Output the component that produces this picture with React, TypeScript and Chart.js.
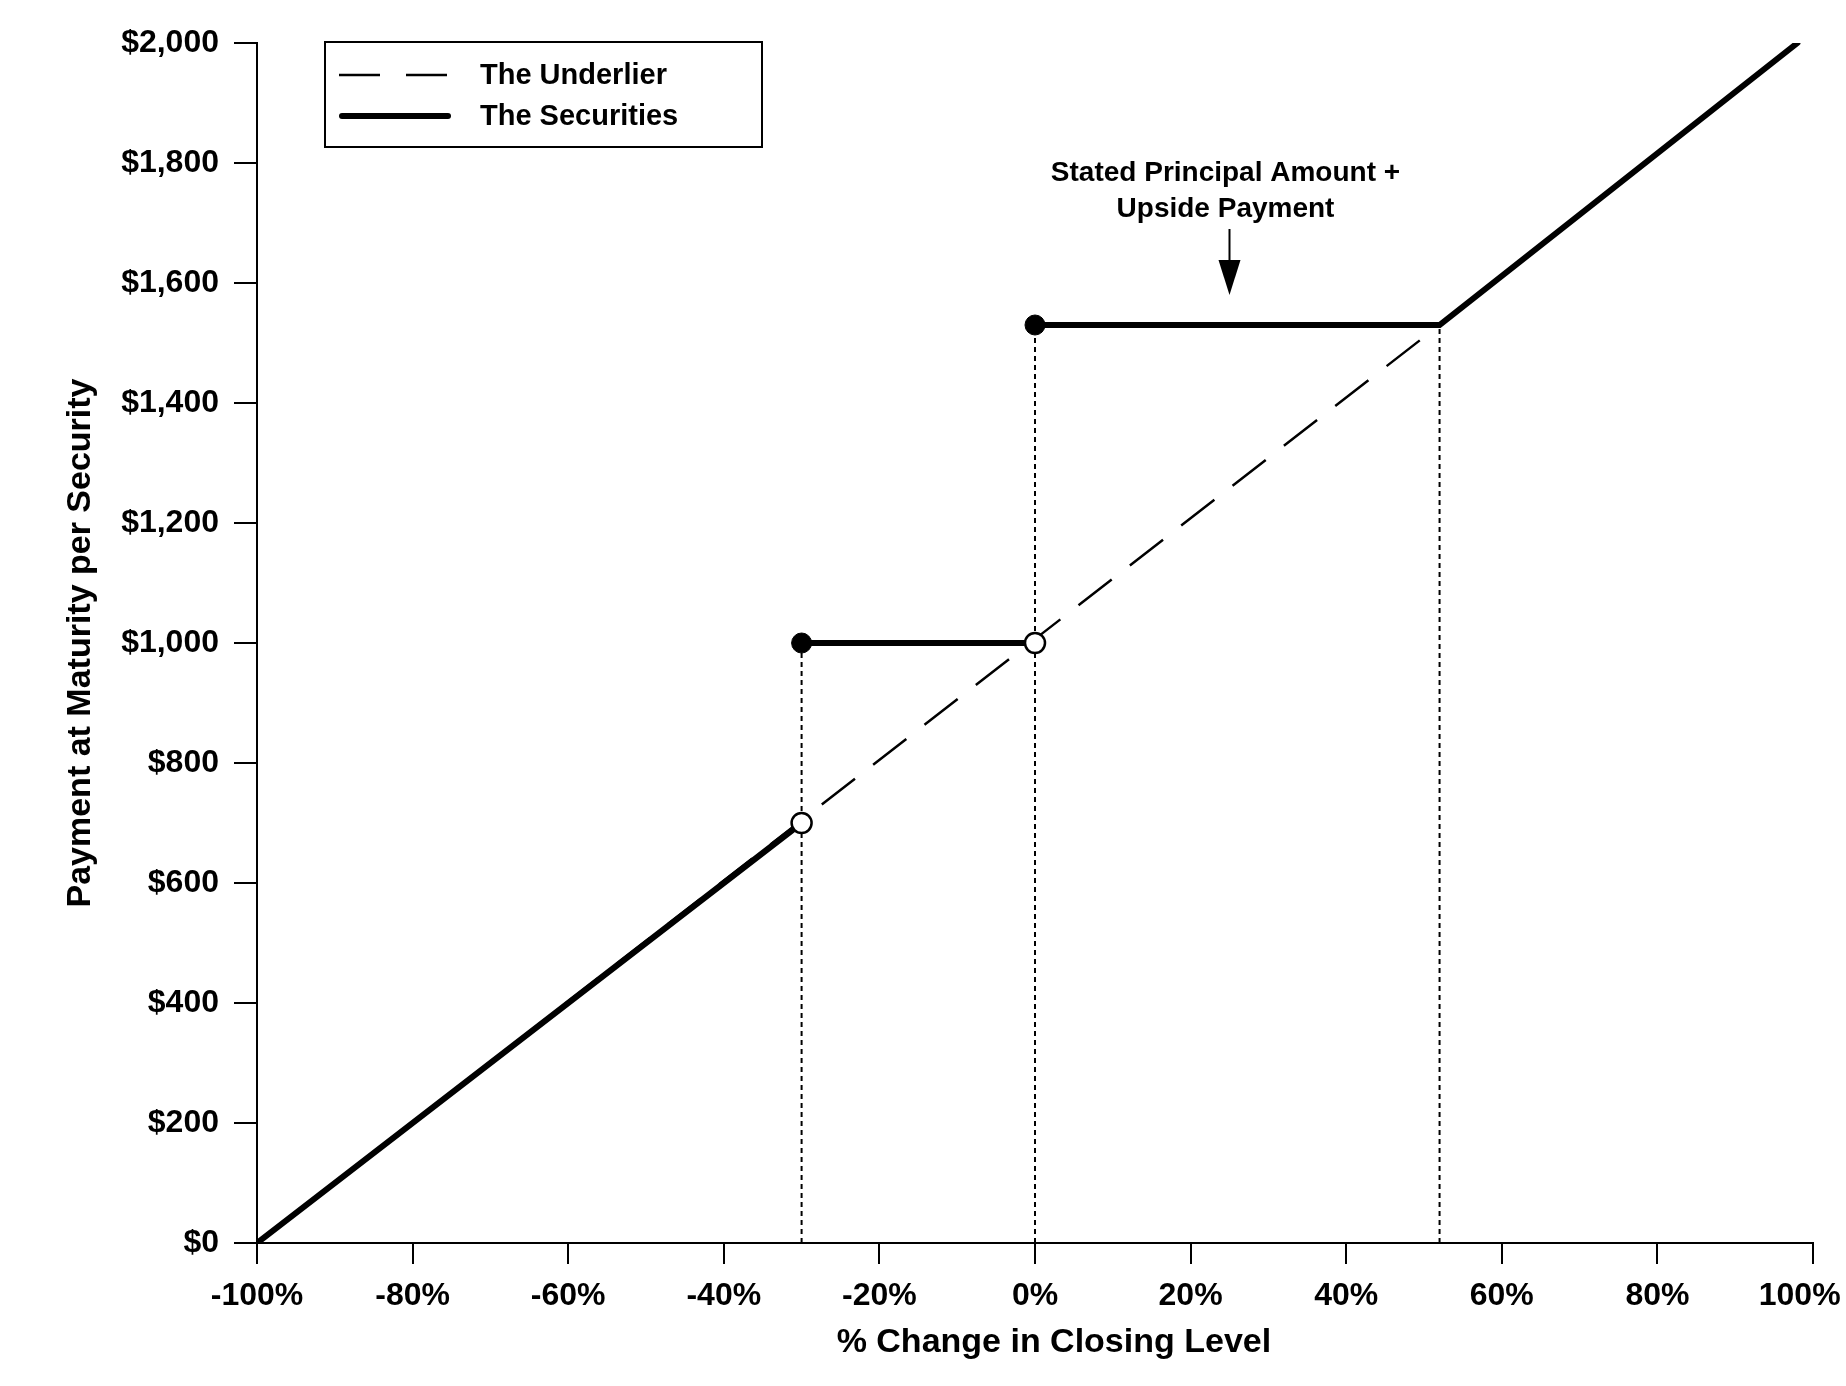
import { useEffect, useRef } from "react";
import Chart from "chart.js/auto";

// % change in closing level vs payment at maturity ($)
const underlierChange = [-100, 52, 98];
const underlierPayment = [0, 1530, 2000];

// null breaks the line at the jumps
const securitiesChange = [-100, -30, -30, -30, 0, 0, 0, 52, 98];
const securitiesPayment = [0, 700, null, 1000, 1000, null, 1530, 1530, 2000];

const closedChange = [-30, 0];
const closedPayment = [1000, 1530];
const openChange = [-30, 0];
const openPayment = [700, 1000];

// dotted drop lines
const guideChange = [-30, 0, 52];
const guidePayment = [1000, 1530, 1530];

const xTickValues = [-100, -80, -60, -40, -20, 0, 20, 40, 60, 80, 100];
const yTickValues = [0, 200, 400, 600, 800, 1000, 1200, 1400, 1600, 1800, 2000];

const legendLabels = ["The Underlier", "The Securities"];
const calloutText = ["Stated Principal Amount +", "Upside Payment"];
const calloutChange = 25;
const calloutTail = 1690;
const calloutTip = 1580;

const FONT = "'Liberation Sans', Arial, sans-serif";

const toPoints = (xs: number[], ys: (number | null)[]) => xs.map((x, i) => ({ x, y: ys[i] }));

const overlay = {
  id: "overlay",
  afterDatasetsDraw(chart: any) {
    const { ctx, chartArea, scales } = chart;
    ctx.save();

    // legend box
    const bx = chartArea.left + 68;
    const by = chartArea.top - 1;
    ctx.strokeStyle = "#000";
    ctx.lineWidth = 2;
    ctx.strokeRect(bx, by, 437, 105);

    ctx.lineWidth = 2.5;
    ctx.setLineDash([41, 26]);
    ctx.beginPath();
    ctx.moveTo(bx + 14, by + 33);
    ctx.lineTo(bx + 126, by + 33);
    ctx.stroke();

    ctx.setLineDash([]);
    ctx.lineWidth = 6;
    ctx.lineCap = "round";
    ctx.beginPath();
    ctx.moveTo(bx + 17, by + 74);
    ctx.lineTo(bx + 123, by + 74);
    ctx.stroke();

    ctx.fillStyle = "#000";
    ctx.font = `bold 29px ${FONT}`;
    ctx.textBaseline = "middle";
    ctx.textAlign = "left";
    ctx.fillText(legendLabels[0], bx + 155, by + 34);
    ctx.fillText(legendLabels[1], bx + 155, by + 75);

    // callout arrow
    const cx = scales.x.getPixelForValue(calloutChange);
    const tailY = scales.y.getPixelForValue(calloutTail);
    const tipY = scales.y.getPixelForValue(calloutTip);
    ctx.lineCap = "butt";
    ctx.lineWidth = 2;
    ctx.beginPath();
    ctx.moveTo(cx, tailY);
    ctx.lineTo(cx, tipY - 30);
    ctx.stroke();
    ctx.beginPath();
    ctx.moveTo(cx - 11, tipY - 35);
    ctx.lineTo(cx + 11, tipY - 35);
    ctx.lineTo(cx, tipY);
    ctx.closePath();
    ctx.fill();

    ctx.font = `bold 28px ${FONT}`;
    ctx.textAlign = "center";
    ctx.fillText(calloutText[0], cx - 4, tailY - 56);
    ctx.fillText(calloutText[1], cx - 4, tailY - 20);

    ctx.restore();
  },
};

function PayoffChart() {
  const canvasRef = useRef<HTMLCanvasElement>(null);
  const chartRef = useRef<Chart | null>(null);

  useEffect(() => {
    if (!canvasRef.current) return;
    if (chartRef.current) chartRef.current.destroy();

    const guides = guideChange.flatMap((x, i) => [
      { x, y: 0 },
      { x, y: guidePayment[i] },
      { x, y: null },
    ]);

    chartRef.current = new Chart(canvasRef.current, {
      type: "line",
      data: {
        datasets: [
          {
            label: "open",
            data: toPoints(openChange, openPayment),
            showLine: false,
            pointRadius: 10,
            pointBackgroundColor: "#fff",
            pointBorderColor: "#000",
            pointBorderWidth: 2.5,
            order: 1,
          },
          {
            label: "closed",
            data: toPoints(closedChange, closedPayment),
            showLine: false,
            pointRadius: 10,
            pointBackgroundColor: "#000",
            pointBorderColor: "#000",
            pointBorderWidth: 1,
            order: 2,
          },
          {
            label: "The Securities",
            data: toPoints(securitiesChange, securitiesPayment),
            borderColor: "#000",
            borderWidth: 6,
            borderCapStyle: "round",
            pointRadius: 0,
            spanGaps: false,
            order: 3,
          },
          {
            label: "The Underlier",
            data: toPoints(underlierChange, underlierPayment),
            borderColor: "#000",
            borderWidth: 2.5,
            borderDash: [42, 23],
            pointRadius: 0,
            order: 4,
          },
          {
            label: "guides",
            data: guides,
            borderColor: "#000",
            borderWidth: 2,
            borderDash: [5, 4],
            pointRadius: 0,
            spanGaps: false,
            order: 5,
          },
        ],
      },
      options: {
        animation: false,
        responsive: true,
        maintainAspectRatio: false,
        events: [],
        layout: { padding: { top: 43, right: 33, left: 0, bottom: 0 } },
        plugins: {
          legend: { display: false },
          tooltip: { enabled: false },
        },
        scales: {
          x: {
            type: "linear",
            min: -100,
            max: 100,
            afterBuildTicks: (s: any) => {
              s.ticks = xTickValues.map((value) => ({ value }));
            },
            afterFit: (s: any) => {
              s.height = 143;
              s.paddingLeft = 0;
              s.paddingRight = 0;
            },
            grid: {
              drawOnChartArea: false,
              drawTicks: true,
              tickLength: 21,
              color: "#000",
              lineWidth: 2,
            },
            border: { display: true, color: "#000", width: 2 },
            ticks: {
              autoSkip: false,
              maxRotation: 0,
              padding: 13,
              color: "#000",
              font: { family: FONT, size: 32, weight: "bold" },
              // last label sits a little inside the axis end, as in the original
              callback: (v: any) => (v === 100 ? `${v}%\u00a0\u00a0\u00a0` : `${v}%`),
            },
            title: {
              display: true,
              text: "\u00a0\u00a0\u00a0\u00a0% Change in Closing Level",
              color: "#000",
              font: { family: FONT, size: 34, weight: "bold" },
              padding: { top: 0, bottom: 23 },
            },
          },
          y: {
            type: "linear",
            min: 0,
            max: 2000,
            afterBuildTicks: (s: any) => {
              s.ticks = yTickValues.map((value) => ({ value }));
            },
            afterFit: (s: any) => {
              s.width = 257;
            },
            grid: {
              drawOnChartArea: false,
              drawTicks: true,
              tickLength: 23,
              color: "#000",
              lineWidth: 2,
            },
            border: { display: true, color: "#000", width: 2 },
            ticks: {
              padding: 15,
              color: "#000",
              font: { family: FONT, size: 32, weight: "bold" },
              callback: (v: any) => `$${Number(v).toLocaleString("en-US")}`,
            },
            title: {
              display: true,
              text: "Payment at Maturity per Security",
              color: "#000",
              font: { family: FONT, size: 34, weight: "bold" },
              padding: { top: 60, bottom: 0 },
            },
          },
        },
      },
      plugins: [overlay],
    } as any);

    return () => {
      if (chartRef.current) chartRef.current.destroy();
      chartRef.current = null;
    };
  }, []);

  return (
    <div style={{ position: "absolute", left: 0, top: 0, width: 1846, height: 1386, background: "#fff" }}>
      <canvas ref={canvasRef} />
    </div>
  );
}

export default function App() {
  return <PayoffChart />;
}
